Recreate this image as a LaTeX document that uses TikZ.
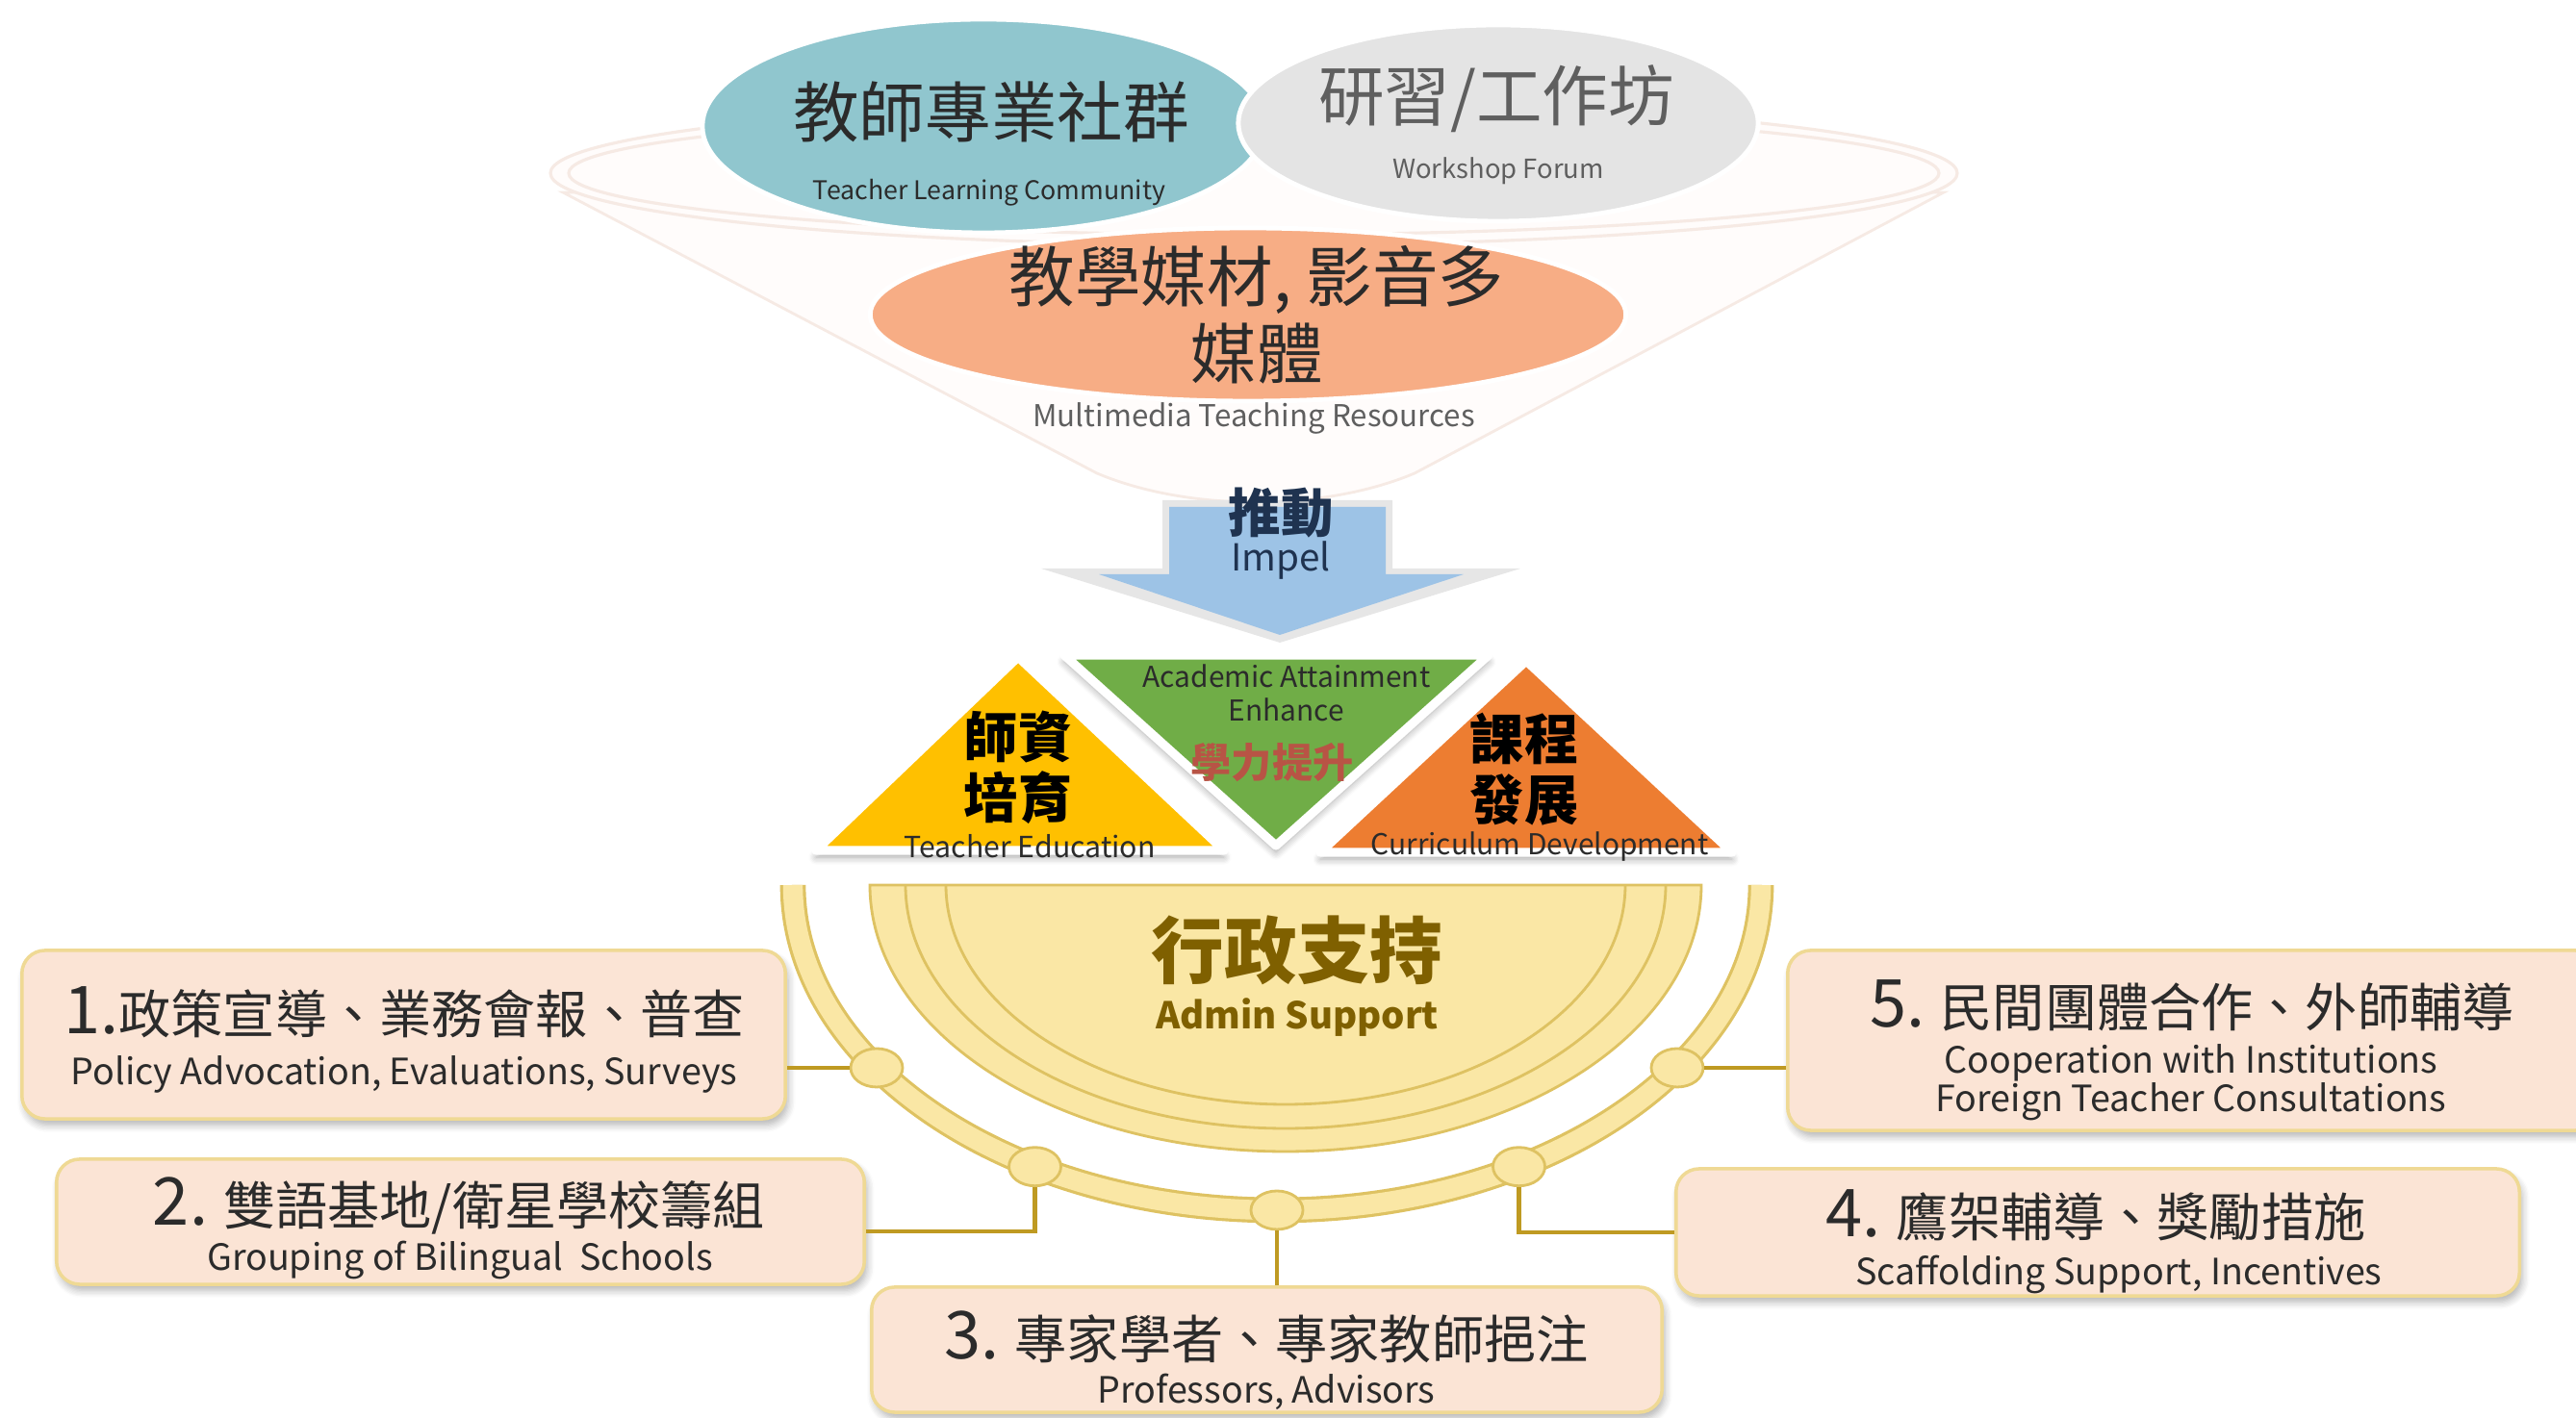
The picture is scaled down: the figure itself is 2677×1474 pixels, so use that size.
\documentclass[tikz,border=0pt]{standalone}
\usepackage{fontspec}
\setmainfont{Noto Sans CJK TC}
\usetikzlibrary{calc,positioning,shapes.geometric,shadows.blur}

\definecolor{tealfill}{HTML}{90C6CE}
\definecolor{greyfill}{HTML}{E4E4E4}
\definecolor{salmon}{HTML}{F7AD85}
\definecolor{funnelline}{HTML}{F6EAE4}
\definecolor{funnelfill}{HTML}{FFFCFB}
\definecolor{arrowblue}{HTML}{9DC3E6}
\definecolor{arrowglow}{HTML}{E6E6E6}
\definecolor{navy}{HTML}{1F3350}
\definecolor{goldtri}{HTML}{FFC000}
\definecolor{greentri}{HTML}{70AD47}
\definecolor{orangetri}{HTML}{ED7D31}
\definecolor{redtext}{HTML}{B85445}
\definecolor{ringfill}{HTML}{FAE7A5}
\definecolor{ringline}{HTML}{DEC262}
\definecolor{olive}{HTML}{7F6000}
\definecolor{linkgold}{HTML}{BF9A22}
\definecolor{boxfill}{HTML}{FBE4D5}
\definecolor{boxline}{HTML}{EFD994}
\definecolor{darktext}{HTML}{2B2B2B}
\definecolor{midgrey}{HTML}{5F5F5F}

\newcommand{\fsz}[2]{\fontsize{#1}{#2}\selectfont}

\begin{document}
\begin{tikzpicture}[x=0.01cm, y=-0.01cm,
    every node/.style={inner sep=0pt},
    blob/.style={ellipse, draw=white, line width=1.4pt},
    tri/.style={draw=white, line width=2.6pt, line join=round, blur shadow={shadow xshift=0pt, shadow yshift=-2pt, shadow opacity=35, shadow blur steps=6}},
    box/.style={rectangle, rounded corners=2.4mm, draw=boxline, fill=boxfill, line width=1pt, blur shadow={shadow xshift=0.8pt, shadow yshift=-1.8pt, shadow opacity=30, shadow blur steps=6}},
    dot/.style={ellipse, draw=ringline, fill=ringfill, line width=0.8pt, minimum width=5.4mm, minimum height=4mm},
    link/.style={linkgold, line width=1.3pt},
    zh/.style={font=\fsz{15.4}{18}, text=darktext},
    en/.style={font=\fsz{10.7}{11.4}, text=darktext, align=center},
  ]
  \useasboundingbox (0,0) rectangle (2677,1474);
  \clip (0,0) rectangle (2677,1474);

  % funnel
  \filldraw[draw=funnelline, fill=funnelfill, line width=0.8pt] (585,200) -- (1140,492) .. controls (1235,532) and (1375,532) .. (1470,492) -- (2020,200) -- cycle;
  \filldraw[draw=funnelline, fill=funnelfill, line width=0.9pt] (1303,180) ellipse [x radius=731, y radius=75];
  \draw[funnelline, line width=0.9pt] (1303,180) ellipse [x radius=712, y radius=64];

  \node[blob, fill=tealfill, minimum width=5.84cm, minimum height=2.22cm] (tlc) at (1022,131) {};
  \node[blob, fill=greyfill, minimum width=5.4cm, minimum height=2.04cm] (wf) at (1557,128) {};
  \node[blob, fill=salmon, minimum width=7.85cm, minimum height=1.8cm] (mtr) at (1297,327) {};

  \node[font=\fsz{19.5}{22}, text=darktext] (tlczh) at (1030,116) {教師專業社群};
  \node[font=\fsz{7.6}{9}, text=darktext] (tlcen) at (1028,200) {Teacher Learning Community};
  \node[font=\fsz{19.5}{22}, text=midgrey] (wfzh) at (1555,103) {研習/工作坊};
  \node[font=\fsz{7.8}{9}, text=midgrey] (wfen) at (1557,178) {Workshop Forum};
  \node[font=\fsz{19.5}{22.8}, text=darktext, align=center] (mtrzh) at (1306,327) {教學媒材, 影音多\\媒體};
  \node[font=\fsz{8.9}{10}, text=midgrey] (mtren) at (1303,435) {Multimedia Teaching Resources};

  % impel arrow
  \fill[arrowglow] (1208,520) -- (1447,520) -- (1447,591) -- (1580,591) -- (1330,668) -- (1082,591) -- (1208,591) -- cycle;
  \fill[arrowblue] (1215,527) -- (1440,527) -- (1440,597) -- (1521,597) -- (1330,660) -- (1142,597) -- (1215,597) -- cycle;
  \node[font=\bfseries\fsz{15.5}{17}, text=navy] (impelzh) at (1331,533) {推動};
  \node[font=\fsz{11}{13}, text=navy] (impelen) at (1331,583) {Impel};

  % triangles
  \filldraw[tri, fill=goldtri] (1058,683) -- (848,884) -- (1272,884) -- cycle;
  \filldraw[tri, fill=greentri] (1106,681) -- (1547,681) -- (1326,879) -- cycle;
  \filldraw[tri, fill=orangetri] (1586,687) -- (1372,886) -- (1800,886) -- cycle;

  \node[font=\bfseries\fsz{16}{18}, align=center] (tezh) at (1058,798) {師資\\培育};
  \node[font=\fsz{8.6}{10}, text=darktext] (teen) at (1070,880) {Teacher Education};
  \node[font=\bfseries\fsz{16}{18}, align=center] (cdzh) at (1584,800) {課程\\發展};
  \node[font=\fsz{8.5}{10}, text=darktext] (cden) at (1600,880) {Curriculum Development};
  \node[font=\fsz{8.5}{10}, text=darktext, align=center] (aaen) at (1337,720) {Academic Attainment\\Enhance};
  \node[font=\bfseries\fsz{12}{14}, text=redtext] (aazh) at (1322,793) {學力提升};

  % admin support
  \filldraw[draw=ringline, fill=ringfill, line width=0.8pt] (904,920) arc[start angle=180, end angle=0, x radius=432, y radius=277] -- cycle;
  \draw[ringline, line width=0.8pt] (941,920) arc[start angle=180, end angle=0, x radius=395, y radius=253];
  \draw[ringline, line width=0.8pt] (983,920) arc[start angle=180, end angle=0, x radius=353, y radius=228];
  \node[font=\bfseries\fsz{21.5}{24}, text=olive] (adminzh) at (1348,988) {行政支持};
  \node[font=\bfseries\fsz{10.9}{13}, text=olive] (adminen) at (1348,1058) {Admin Support};

  \draw[ringline, line width=7.6pt] (824,920) arc[start angle=180, end angle=0, x radius=503, y radius=338];
  \draw[ringfill, line width=5.8pt] (824,920) arc[start angle=180, end angle=0, x radius=503, y radius=338];

  \foreach \a [count=\i] in {145.8,120,90,60,34.2}
    \node[dot] (d\i) at ($(1327,920)+(\a:503 and 338)$) {};

  % boxes
  \node[box, minimum width=7.93cm, minimum height=1.75cm] (b1) at (419.5,1075.5) {};
  \node[box, minimum width=8.39cm, minimum height=1.30cm] (b2) at (478.5,1270) {};
  \node[box, minimum width=8.21cm, minimum height=1.30cm] (b3) at (1316.5,1403) {};
  \node[box, minimum width=8.76cm, minimum height=1.32cm] (b4) at (2180,1281) {};
  \node[box, minimum width=8.42cm, minimum height=1.87cm] (b5) at (2279,1081.5) {};

  \draw[link] (d1) -- (d1 -| b1.east);
  \draw[link] (d2) |- ($(b2.east)+(0,10)$);
  \draw[link] (d3) -- (d3 |- b3.north);
  \draw[link] (d4) |- (b4.west);
  \draw[link] (d5) -- (d5 -| b5.west);

  \node[zh] (b1zh) at (420,1052) {{\fsz{19.5}{20}1.}政策宣導、業務會報、普查};
  \node[en] (b1en) at (420,1117) {Policy Advocation, Evaluations, Surveys};
  \node[zh] (b2zh) at (477,1253) {{\fsz{19.5}{20}2.} 雙語基地/衛星學校籌組};
  \node[en] (b2en) at (478,1310) {Grouping of Bilingual\ \ Schools};
  \node[zh] (b3zh) at (1316,1390) {{\fsz{19.5}{20}3.} 專家學者、專家教師挹注};
  \node[en] (b3en) at (1316,1447) {Professors, Advisors};
  \node[zh] (b4zh) at (2178,1263) {{\fsz{19.5}{20}4.} 鷹架輔導、獎勵措施};
  \node[en] (b4en) at (2202,1325) {Scaffolding Support, Incentives};
  \node[zh] (b5zh) at (2278,1045) {{\fsz{19.5}{20}5.} 民間團體合作、外師輔導};
  \node[en] (b5en) at (2277,1125) {Cooperation with Institutions\\Foreign Teacher Consultations};
\end{tikzpicture}
\end{document}
